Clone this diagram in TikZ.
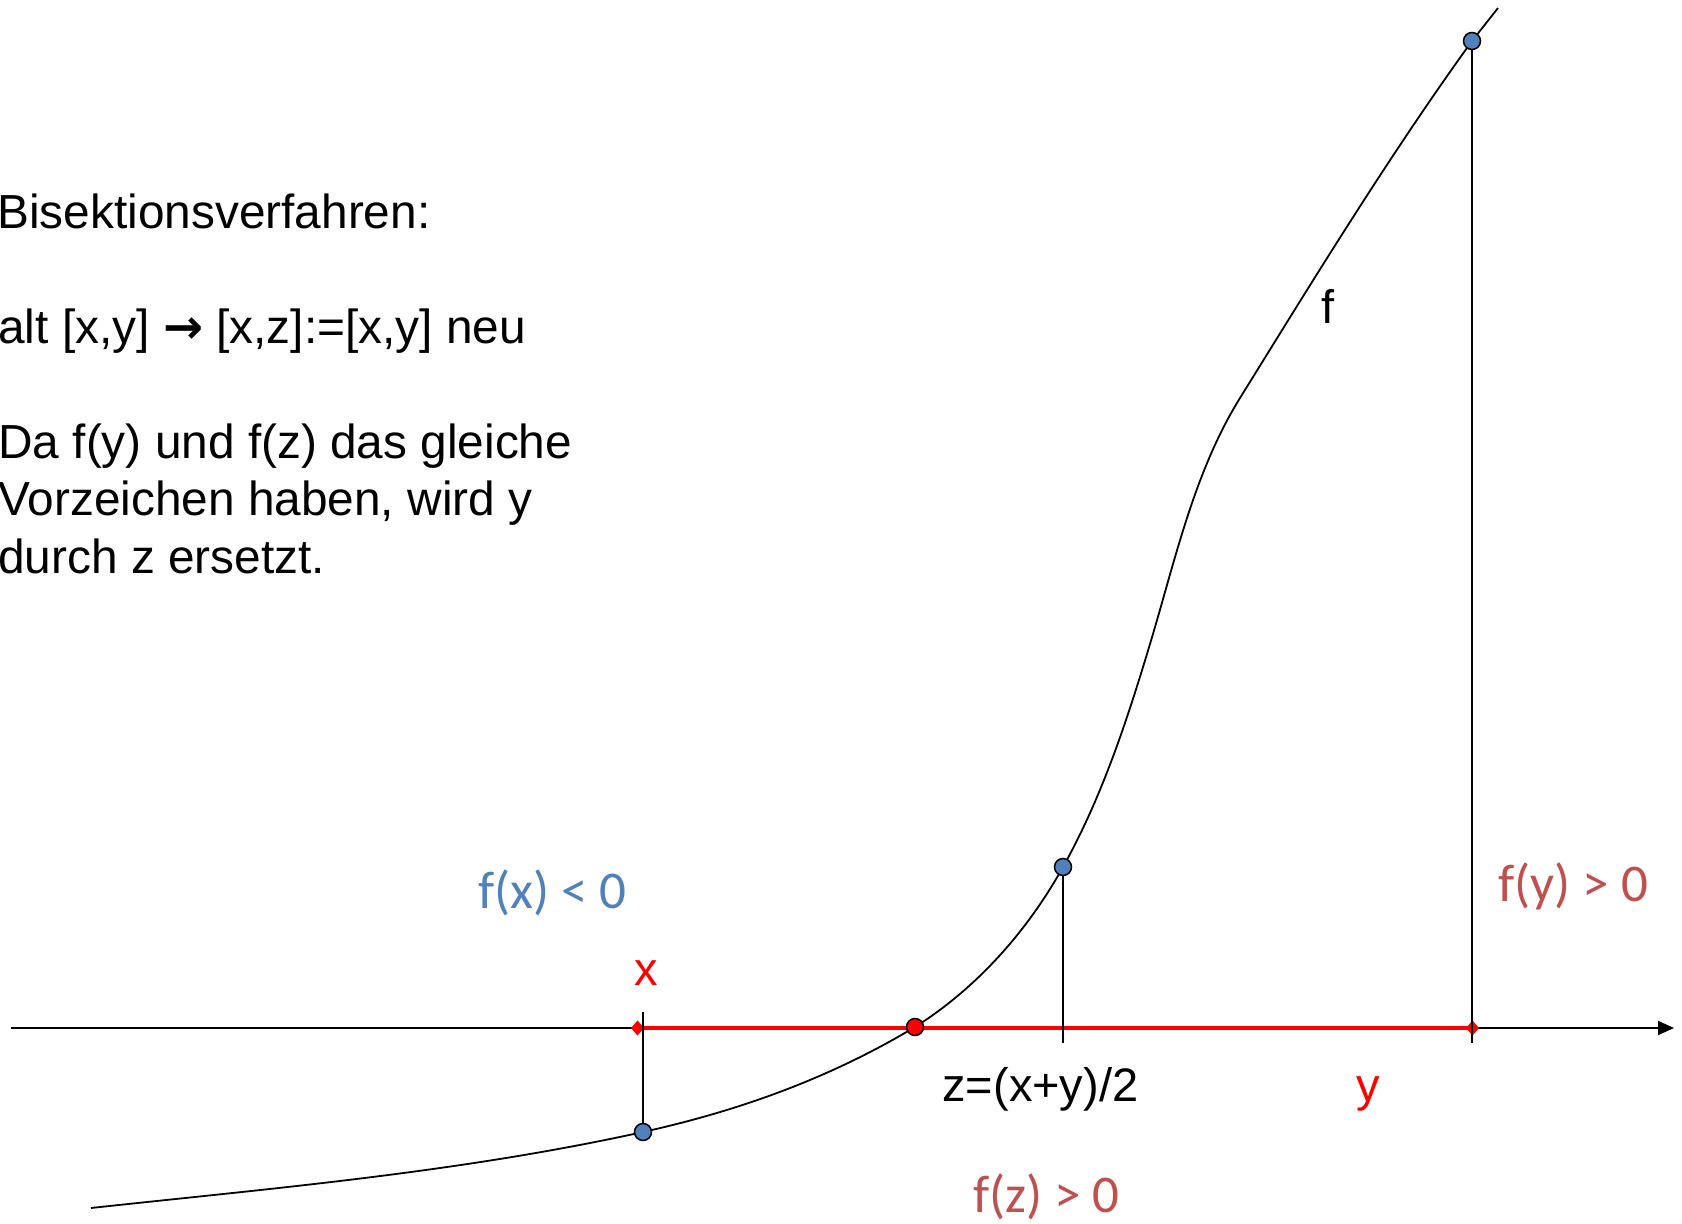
\documentclass[tikz,border=0pt]{standalone}
\usepackage{fontspec}
\setmainfont{Liberation Sans}
\newfontfamily\calib{Carlito}
\newfontfamily\dejavu{DejaVu Sans}
\usetikzlibrary{arrows.meta}
\definecolor{ppblue}{HTML}{4F81BD}
\definecolor{ppred}{HTML}{C0504D}
\definecolor{pured}{HTML}{FF0000}
\begin{document}
\begin{tikzpicture}[x=0.5pt,y=-0.5pt,
  lefttext/.style={anchor=base west, inner sep=0pt, font=\fontsize{23.9}{28}\selectfont},
  lbl/.style={anchor=base west, inner sep=0pt, font=\fontsize{23.5}{28}\selectfont},
  clbl/.style={anchor=base west, inner sep=0pt, font=\calib\fontsize{26.5}{30}\selectfont},
  thin line/.style={line width=0.9pt, black},
  curveline/.style={line width=0.9pt, black},
  bluedot/.style={circle, draw=black, fill=ppblue, line width=0.75pt, minimum size=8.5pt, inner sep=0pt},
  reddot/.style={circle, draw=black, fill=pured, line width=0.75pt, minimum size=8.5pt, inner sep=0pt},
  redline/.style={line width=2pt, pured, {Diamond[length=6.5pt,width=7.5pt]}-{Diamond[length=6.5pt,width=7.5pt]}},
  axisline/.style={line width=0.9pt, black, -{Triangle[length=8pt,width=7pt]}}
]
\useasboundingbox (0,0) rectangle (1682,1224);

% coordinates
\coordinate (axL) at (11,1028);
\coordinate (axR) at (1674,1028);
\coordinate (rL) at (631,1028);
\coordinate (rR) at (1479,1028);
\coordinate (px) at (643,1132);
\coordinate (pr) at (915,1027);
\coordinate (pz) at (1063,867);
\coordinate (py) at (1472,41);
\coordinate (xtop) at (643,1012);
\coordinate (zbot) at (1063,1043);
\coordinate (ybot) at (1472,1043);
\coordinate (cS) at (91,1208);
\coordinate (cE) at (1498,8);
\coordinate (c1) at (1150,644);
\coordinate (c2) at (1240,398);

% axis and red interval
\draw[axisline] (axL) -- (axR);
\draw[redline] (rL) -- (rR);

% curve f
\draw[curveline] (cS) .. controls (275,1188) and (459,1172.5) .. (px)
  .. controls (733,1112) and (825,1081) .. (pr)
  .. controls (977,988) and (1027.5,930.8) .. (pz)
  .. controls (1102,797) and (1127,720.6) .. (c1)
  .. controls (1175,561) and (1194,472) .. (c2)
  .. controls (1315,277) and (1389,156) .. (py)
  -- (cE);

% verticals
\draw[thin line] (xtop) -- (px);
\draw[thin line] (pz) -- (zbot);
\draw[thin line] (py) -- (ybot);

% points
\node[bluedot] (nx) at (px) {};
\node[reddot] (nr) at (pr) {};
\node[bluedot] (nz) at (pz) {};
\node[bluedot] (ny) at (py) {};

% left text
\node[lefttext] (t1) at (-3,229) {Bisektionsverfahren:};
\node[lefttext] (t2) at (-2,344) {alt [x,y] {\dejavu\bfseries →} [x,z]:=[x,y] neu};
\node[lefttext] (t3) at (-2,459) {Da f(y) und f(z) das gleiche};
\node[lefttext] (t4) at (-2,516) {Vorzeichen haben, wird y};
\node[lefttext] (t5) at (-2,574) {durch z ersetzt.};

% labels
\node[clbl, text=ppblue] (lfx) at (478,908) {f(x) < 0};
\node[clbl, text=ppred] (lfy) at (1498,901) {f(y) > 0};
\node[clbl, text=ppred] (lfz) at (973,1212) {f(z) > 0};
\node[lbl, text=pured, anchor=base] (lx) at (646,985) {x};
\node[lbl, text=pured] (ly) at (1356,1101) {y};
\node[lbl] (lz) at (942,1101) {z=(x+y)/2};
\node[lbl] (lf) at (1321,324) {f};
\end{tikzpicture}
\end{document}
